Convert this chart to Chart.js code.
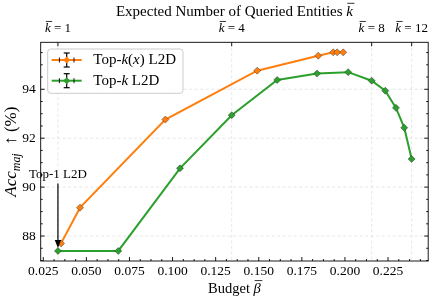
<!DOCTYPE html>
<html><head><meta charset="utf-8">
<script src="https://cdn.jsdelivr.net/npm/chart.js@4.4.0/dist/chart.umd.min.js"></script>
<style>html,body{margin:0;padding:0;background:#fff;overflow:hidden}canvas{display:block}</style>
</head><body>
<canvas id="c" width="433" height="301"></canvas>
<script>
// ---------------- data ----------------
const budgetTopKx = [0.0353, 0.0463, 0.0958, 0.1491, 0.1845, 0.1932, 0.1955, 0.1990];
const accTopKx    = [87.70, 89.16, 92.76, 94.76, 95.37, 95.51, 95.51, 95.51];
const budgetTopK  = [0.0335, 0.0685, 0.1043, 0.1343, 0.1607, 0.1838, 0.2019, 0.2155, 0.2234, 0.2296, 0.2344, 0.2387];
const accTopK     = [87.39, 87.39, 90.77, 92.94, 94.38, 94.64, 94.70, 94.35, 93.94, 93.24, 92.43, 91.15];
const kBarValues  = [1, 4, 8, 12];
const kBarBudgets = [0.0335, 0.1343, 0.2155, 0.2387];
const seriesLabels = ['Top-*k*(*x*) L2D', 'Top-*k* L2D'];
const topTitle = 'Expected Number of Queried Entities ^k^';
const xTitle = 'Budget ^β^';
const yTitle = '*Acc*_maj_  ↑ (%)';
const annotationText = 'Top-1 L2D';
const annotationX = 0.0335, annotationTextY = 90.5, arrowFromY = 90.15, arrowToY = 87.39;

const X_MIN = 0.0235, X_MAX = 0.2483, X_STEP = 0.025, X_MINOR = 0.00625;
const Y_MIN = 86.98, Y_MAX = 95.92, Y_STEP = 2, Y_MINOR = 0.5;

const ORANGE = '#ff7f0e', GREEN = '#2ca02c';
const FONT = "'Liberation Serif','DejaVu Serif',serif";

// ------------- rich text helpers -------------
function parseRich(str) {
  const parts = str.split(/(\*[^*]+\*|\^[^^]+\^|_[^_]+_)/).filter(p => p.length);
  return parts.map(p => {
    if (p[0] === '*') return {t: p.slice(1, -1), it: true};
    if (p[0] === '^') return {t: p.slice(1, -1), it: true, bar: true};
    if (p[0] === '_') return {t: p.slice(1, -1), it: true, sub: true};
    return {t: p};
  });
}
function setFont(ctx, size, it) { ctx.font = (it ? 'italic ' : '') + size + 'px ' + FONT; }
function drawRich(ctx, str, x, y, size, align) {
  const segs = parseRich(str);
  let total = 0;
  segs.forEach(s => { setFont(ctx, s.sub ? size * 0.7 : size, s.it); s.w = ctx.measureText(s.t).width; total += s.w; });
  let cx = align === 'center' ? x - total / 2 : align === 'right' ? x - total : x;
  ctx.textAlign = 'left'; ctx.textBaseline = 'middle';
  segs.forEach(s => {
    const sz = s.sub ? size * 0.7 : size;
    setFont(ctx, sz, s.it);
    ctx.fillText(s.t, cx, y + (s.sub ? size * 0.28 : 0));
    if (s.bar) {
      ctx.save(); ctx.lineWidth = 0.8; ctx.strokeStyle = ctx.fillStyle;
      const yb = y - size * 0.58;
      ctx.beginPath(); ctx.moveTo(cx + 1, yb); ctx.lineTo(cx + s.w + 1.5, yb); ctx.stroke();
      ctx.restore();
    }
    cx += s.w;
  });
  return total;
}

// ------------- decoration plugin -------------
const deco = {
  id: 'deco',
  beforeDatasetsDraw(chart) {
    const {ctx, chartArea: a, scales} = chart;
    ctx.save();
    ctx.strokeStyle = '#e0e0e0'; ctx.lineWidth = 0.8; ctx.setLineDash([3, 2.5]);
    scales.y.ticks.forEach(t => {
      const py = scales.y.getPixelForValue(t.value);
      ctx.beginPath(); ctx.moveTo(a.left, py); ctx.lineTo(a.right, py); ctx.stroke();
    });
    scales.x2.ticks.forEach(t => {
      const px = scales.x2.getPixelForValue(t.value);
      ctx.beginPath(); ctx.moveTo(px, a.top); ctx.lineTo(px, a.bottom); ctx.stroke();
    });
    ctx.restore();
  },
  afterDatasetsDraw(chart) {
    const {ctx, chartArea: a, scales} = chart;
    const sx = scales.x, sy = scales.y, sx2 = scales.x2;
    ctx.save();
    ctx.strokeStyle = '#000'; ctx.fillStyle = '#000'; ctx.lineWidth = 0.9; ctx.setLineDash([]);
    // frame
    ctx.strokeRect(a.left, a.top, a.right - a.left, a.bottom - a.top);
    // inward ticks
    const tick = (x1, y1, x2, y2) => { ctx.beginPath(); ctx.moveTo(x1, y1); ctx.lineTo(x2, y2); ctx.stroke(); };
    for (let i = Math.ceil(Y_MIN / Y_MINOR - 1e-9); i * Y_MINOR <= Y_MAX + 1e-9; i++) {
      const v = i * Y_MINOR, py = sy.getPixelForValue(v);
      const major = Math.abs(v / Y_STEP - Math.round(v / Y_STEP)) < 1e-6;
      const L = major ? 4 : 2;
      tick(a.left, py, a.left + L, py);
      tick(a.right, py, a.right - L, py);
    }
    for (let i = Math.ceil(X_MIN / X_MINOR - 1e-9); i * X_MINOR <= X_MAX + 1e-9; i++) {
      const v = i * X_MINOR, px = sx.getPixelForValue(v);
      const major = Math.abs(v / X_STEP - Math.round(v / X_STEP)) < 1e-6;
      tick(px, a.bottom, px, a.bottom - (major ? 4 : 2));
    }
    sx2.ticks.forEach(t => { const px = sx2.getPixelForValue(t.value); tick(px, a.top, px, a.top + 4); });

    // top tick labels
    sx2.ticks.forEach((t, i) => {
      drawRich(ctx, '^k^ = ' + kBarValues[i], sx2.getPixelForValue(t.value), 29, 13, 'center');
    });
    // titles
    drawRich(ctx, topTitle, (a.left + a.right) / 2, 12, 15, 'center');
    drawRich(ctx, xTitle, (a.left + a.right) / 2, 289, 14.5, 'center');
    ctx.save();
    ctx.translate(12, (a.top + a.bottom) / 2);
    ctx.rotate(-Math.PI / 2);
    drawRich(ctx, yTitle, 0, 0, 17, 'center');
    ctx.restore();

    // annotation
    const ax = sx.getPixelForValue(annotationX);
    const ay0 = sy.getPixelForValue(arrowFromY), ay1 = sy.getPixelForValue(arrowToY) - 3;
    ctx.lineWidth = 1.2;
    tick(ax, ay0, ax, ay1 - 5);
    ctx.beginPath(); ctx.moveTo(ax, ay1); ctx.lineTo(ax - 3.2, ay1 - 8); ctx.lineTo(ax + 3.2, ay1 - 8); ctx.closePath(); ctx.fill();
    ctx.fillStyle = '#000';
    drawRich(ctx, annotationText, ax, sy.getPixelForValue(annotationTextY), 13, 'center');

    // legend
    const bx = 47.7, by = 49, bw = 135.3, bh = 44.3;
    ctx.save();
    ctx.fillStyle = 'rgba(255,255,255,0.85)'; ctx.strokeStyle = '#cccccc'; ctx.lineWidth = 1;
    ctx.beginPath(); ctx.roundRect(bx, by, bw, bh, 3); ctx.fill(); ctx.stroke();
    ctx.restore();
    chart.data.datasets.forEach((ds, i) => {
      const ry = 60 + i * 20.7, cx = 66.7;
      ctx.strokeStyle = ds.borderColor; ctx.lineWidth = 2;
      tick(51.7, ry, 81.7, ry);
      ctx.strokeStyle = '#000'; ctx.lineWidth = 1.2;
      tick(cx, ry - 7, cx, ry + 7);
      tick(cx - 3, ry - 7, cx + 3, ry - 7);
      tick(cx - 3, ry + 7, cx + 3, ry + 7);
      ctx.lineWidth = 0.9;
      tick(cx - 7.3, ry - 2.5, cx - 7.3, ry + 2.5);
      tick(cx + 7.3, ry - 2.5, cx + 7.3, ry + 2.5);
      ctx.fillStyle = ds.borderColor;
      ctx.beginPath(); ctx.moveTo(cx, ry - 3.5); ctx.lineTo(cx + 3.5, ry); ctx.lineTo(cx, ry + 3.5); ctx.lineTo(cx - 3.5, ry); ctx.closePath(); ctx.fill();
      ctx.fillStyle = '#000';
      drawRich(ctx, ds.label, 93.3, ry, 15, 'left');
    });
    ctx.restore();
  }
};

const mkSet = (label, xs, ys, color) => ({
  label, data: xs.map((x, i) => ({x, y: ys[i]})),
  borderColor: color, backgroundColor: color, borderWidth: 2,
  pointStyle: 'rectRot', pointRadius: 3.5, pointBackgroundColor: color,
  pointBorderColor: 'rgba(40,40,40,0.55)', pointBorderWidth: 0.8, tension: 0
});

new Chart(document.getElementById('c'), {
  type: 'line',
  data: { datasets: [
    mkSet(seriesLabels[0], budgetTopKx, accTopKx, ORANGE),
    mkSet(seriesLabels[1], budgetTopK, accTopK, GREEN)
  ]},
  options: {
    responsive: false, animation: false, devicePixelRatio: 1,
    layout: { padding: { left: 0, right: 4.7, top: 0, bottom: 0 } },
    plugins: { legend: { display: false }, tooltip: { enabled: false } },
    scales: {
      x: {
        type: 'linear', position: 'bottom', min: X_MIN, max: X_MAX,
        grid: { display: false, drawTicks: false }, border: { display: false },
        ticks: { stepSize: X_STEP, includeBounds: false, autoSkip: false, maxRotation: 0, padding: 2,
                 color: '#000', font: { family: FONT, size: 13.5 }, callback: v => v.toFixed(3) },
        afterFit: s => { s.height = 40; }
      },
      x2: {
        type: 'linear', position: 'top', min: X_MIN, max: X_MAX,
        grid: { display: false, drawTicks: false }, border: { display: false },
        ticks: { display: false },
        afterBuildTicks: s => { s.ticks = kBarBudgets.map(v => ({ value: v })); },
        afterFit: s => { s.height = 42.3; }
      },
      y: {
        type: 'linear', position: 'left', min: Y_MIN, max: Y_MAX,
        grid: { display: false, drawTicks: false }, border: { display: false },
        ticks: { stepSize: Y_STEP, includeBounds: false, padding: 5, color: '#000',
                 font: { family: FONT, size: 13.5 }, callback: v => String(v) },
        afterFit: s => { s.width = 40.7; }
      }
    }
  },
  plugins: [deco]
});
</script>
</body></html>
